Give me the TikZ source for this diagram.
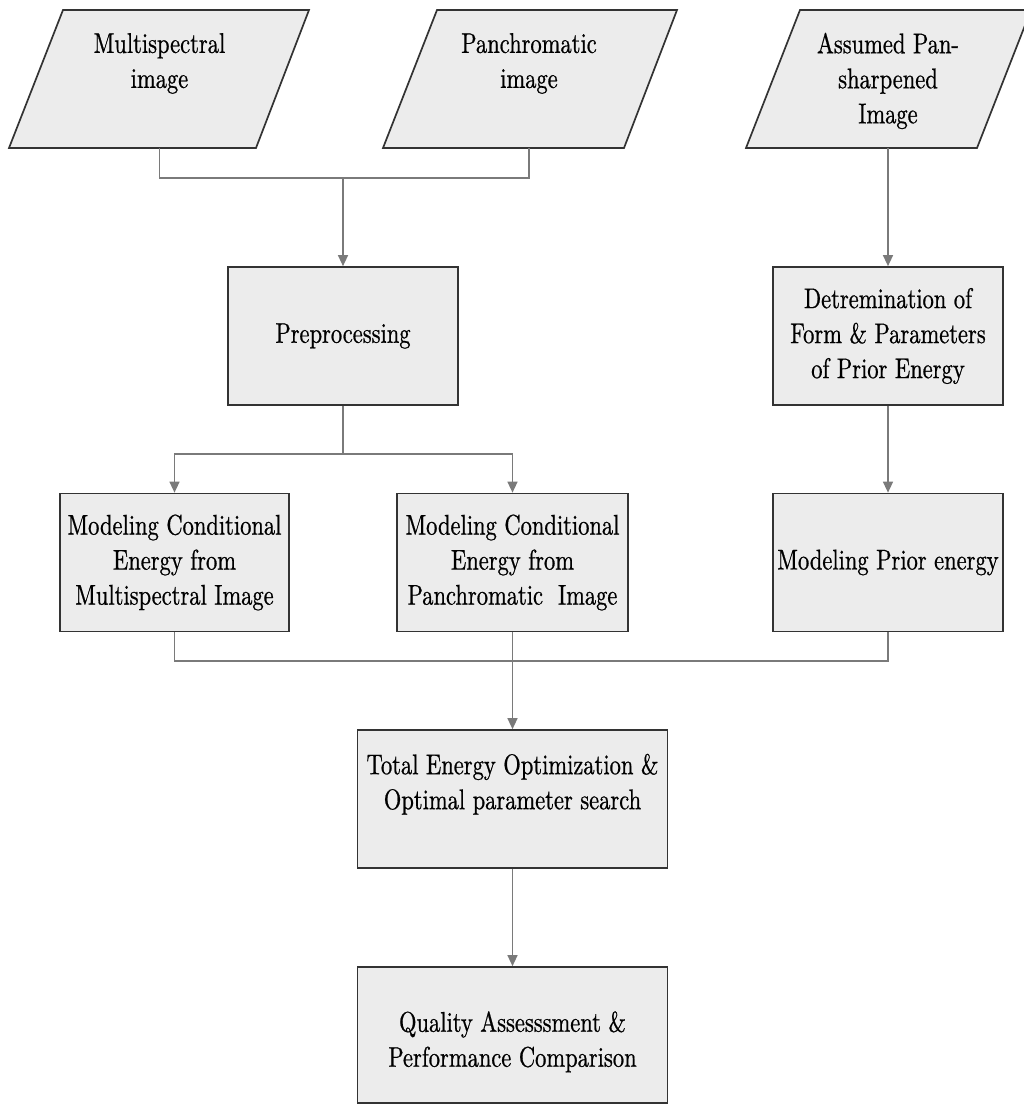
\documentclass[tikz,border=0pt]{standalone}
\usepackage{fontspec}
\setmainfont{lmroman10-regular.otf}[FakeStretch=0.79, FakeBold=0.7]
\usetikzlibrary{arrows.meta}
\definecolor{boxfill}{HTML}{ECECEC}
\definecolor{boxline}{HTML}{333333}
\definecolor{conn}{HTML}{7A7A7A}
\tikzset{
  flowbox/.style={draw=boxline, line width=1.7pt, fill=boxfill, minimum height=138pt,
    inner sep=0pt, align=center, font=\fontsize{28.5}{35}\selectfont},
  ptext/.style={inner sep=0pt, align=center, font=\fontsize{28.5}{35}\selectfont},
  paral/.style={draw=boxline, line width=1.7pt, fill=boxfill, line join=miter},
  link/.style={draw=conn, line width=1.4pt},
  arr/.style={link, -{Triangle[length=11pt,width=10pt]}},
}
\begin{document}
\begin{tikzpicture}[x=1pt,y=-1pt]
\useasboundingbox (0,0) rectangle (1024,1105);
% input parallelograms
\path[paral] (63,10) -- (309,10) -- (256,148) -- (9,148) -- cycle;
\node[ptext] (ms) at (159.5,78) {Multispectral\\image\\\mbox{}};
\path[paral] (437,10) -- (677,10) -- (624,148) -- (383,148) -- cycle;
\node[ptext] (pc) at (529,78) {Panchromatic\\image\\\mbox{}};
\path[paral] (800,10) -- (1031,10) -- (977,148) -- (746,148) -- cycle;
\node[ptext] (ap) at (888,81) {Assumed Pan-\\sharpened\\Image};
\coordinate (msb) at (159.5,148);
\coordinate (pcb) at (529,148);
\coordinate (apb) at (888,148);
% boxes
\node[flowbox, minimum width=230pt] (pre) at (343,336) {Preprocessing};
\node[flowbox, minimum width=230pt] (det) at (888,336) {Detremination of\\Form \& Parameters\\of Prior Energy};
\node[flowbox, minimum width=229pt] (mc1) at (174.5,562.5) {Modeling Conditional\\Energy from\\Multispectral Image};
\node[flowbox, minimum width=231pt] (mc2) at (512.5,562.5) {Modeling Conditional\\Energy from\\Panchromatic\ \ Image};
\node[flowbox, minimum width=230pt] (mpe) at (888,562.5) {Modeling Prior energy};
\node[flowbox, minimum width=310pt] (teo) at (512.5,799) {Total Energy Optimization \&\\Optimal parameter search\\\mbox{}};
\node[flowbox, minimum width=310pt, minimum height=136pt, text height=69pt] (qa) at (512.5,1035) {Quality Assesssment \&\\Performance Comparison};
% connectors
\coordinate (j1) at (343,178);
\coordinate (j2) at (343,454);
\coordinate (j3) at (512.5,661);
\draw[link] (msb) |- (j1);
\draw[link] (pcb) |- (j1);
\draw[arr] (j1) -- (pre.north);
\draw[arr] (apb) -- (det.north);
\draw[arr] (det.south) -- (mpe.north);
\draw[link] (pre.south) -- (j2);
\draw[arr] (j2) -| (mc1.north);
\draw[arr] (j2) -| (mc2.north);
\draw[link] (mc1.south) |- (j3);
\draw[link] (mpe.south) |- (j3);
\draw[arr] (mc2.south) -- (teo.north);
\draw[arr] (teo.south) -- (qa.north);
\end{tikzpicture}
\end{document}
